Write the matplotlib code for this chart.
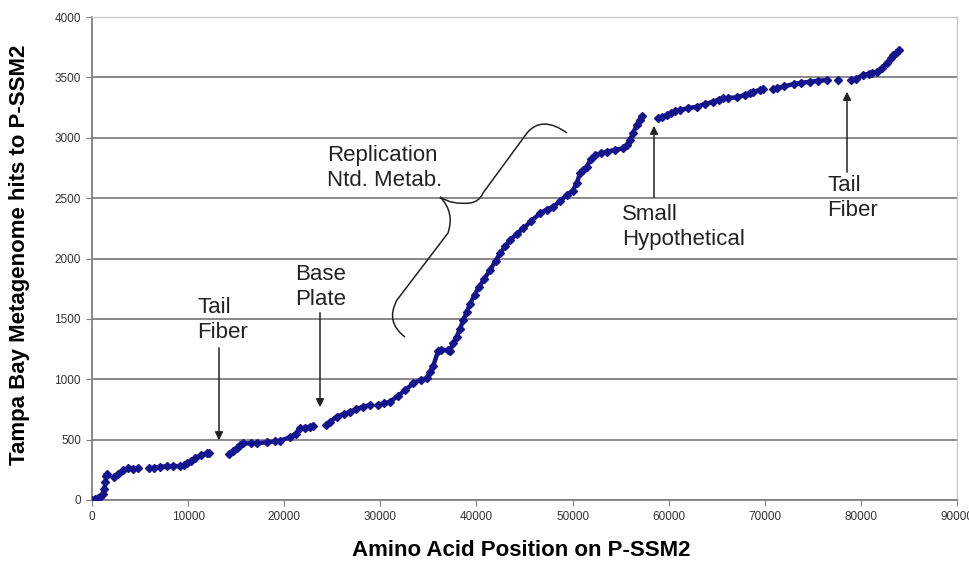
import numpy as np
import matplotlib
matplotlib.use("Agg")
import matplotlib.pyplot as plt
from matplotlib.path import Path
from matplotlib.patches import PathPatch

# ---- data; None marks gaps between runs of hits ----
positions = [0, 300, 600, 830, 1100, 1300, 1400, 1500, 1550, None,
             2300, 2700, 3260, 3780, 4300, 4820, None,
             5900, 6500, 7075, 7800, 8460, 9160, None,
             9600, 9850, 10300, 10720, 11300, 11930, 12200, None,
             14300, 14700, 15050, 15400, 15750, 16500, 17140, 18180, 19000, 19560,
             20600, 21200, 21640, 22200, 22680, 23030, None,
             24300, 24800, 25460, 26200, 26850, 27500, 28230, 28930, None,
             29800, 30400, 31010, 31800, 32600, 33430, 34200, 34820, 35170, 35500,
             36000, 36300, 37000, 37250, 37600, 37950, 38300, 38640, 39000, 39330,
             39800, 40300, 40800, 41420, 42000, 42460, 43000, 43500, 44200, 44890,
             45700, 46620, 47300, 48010, 48700, 49390, 50000, 50430, 50780, 51100,
             51470, 51900, 52340, 53000, 53560, 54400, 55290, 55700, 55980, 56300,
             56680, 57000, 57200, None,
             58900, 59300, 59800, None,
             60200, 60700, 61190, 62000, 62920, 63800, 64650, 65200, 65690, None,
             66200, 67090, 67900, 68500, 68820, 69500, 69860, None,
             70900, 71250, 72000, 73000, 73800, 74720, 75500, 76460, None,
             77600, None,
             79000, 79500, 80270, 80800, None,
             81200, 81660, 82200, 82700, 83100, 83390, 83700, 84000]
hits = [0, 10, 20, 27, 50, 90, 150, 200, 215, None,
        190, 215, 248, 262, 258, 262, None,
        262, 268, 276, 278, 281, 281, None,
        290, 303, 320, 345, 370, 386, 392, None,
        381, 405, 428, 455, 469, 470, 469, 478, 485, 491,
        519, 550, 593, 600, 607, 613, None,
        621, 650, 690, 712, 731, 752, 773, 787, None,
        787, 800, 814, 860, 910, 966, 995, 1008, 1060, 1110,
        1230, 1245, 1240, 1235, 1300, 1352, 1420, 1491, 1560, 1620,
        1700, 1767, 1830, 1905, 1980, 2043, 2100, 2153, 2205, 2250,
        2310, 2374, 2405, 2429, 2475, 2526, 2560, 2623, 2706, 2730,
        2760, 2820, 2857, 2870, 2885, 2900, 2912, 2940, 2981, 3040,
        3105, 3150, 3180, None,
        3161, 3175, 3188, None,
        3205, 3220, 3230, 3245, 3257, 3280, 3299, 3315, 3326, None,
        3330, 3334, 3355, 3372, 3381, 3395, 3400, None,
        3405, 3409, 3425, 3445, 3455, 3464, 3472, 3478, None,
        3478, None,
        3478, 3490, 3520, 3530, None,
        3535, 3547, 3580, 3616, 3660, 3685, 3705, 3730]

x_ticks = list(range(0, 90001, 10000))
y_ticks = list(range(0, 4001, 500))

xs = np.array([np.nan if v is None else v for v in positions], dtype=float)
ys = np.array([np.nan if v is None else v for v in hits], dtype=float)

fig = plt.figure(figsize=(9.69, 5.61), dpi=100)
ax = fig.add_axes([92/969, 1 - 500/561, (957 - 92)/969, (500 - 17)/561])

navy = "#14148c"
ax.plot(xs, ys, color=navy, lw=3.2, marker="D", ms=4.2, mec=navy, mfc=navy,
        solid_capstyle="round", zorder=3)

ax.set_xlim(0, 90000)
ax.set_ylim(0, 4000)
ax.set_xticks(x_ticks)
ax.set_yticks(y_ticks)
ax.yaxis.grid(True, color="#808080", lw=1.3)
ax.set_axisbelow(True)
for s in ["left", "bottom"]:
    ax.spines[s].set_color("#808080")
    ax.spines[s].set_linewidth(1.3)
for s in ["top", "right"]:
    ax.spines[s].set_color("#c8c8c8")
    ax.spines[s].set_linewidth(1.0)
ax.tick_params(axis="both", direction="out", length=4, color="#808080",
               labelsize=8.5, labelcolor="#333333", pad=4)
tickfont = ["Liberation Sans", "DejaVu Sans"]
for lab in ax.get_xticklabels() + ax.get_yticklabels():
    lab.set_family(tickfont)

lblfont = ["Liberation Sans", "DejaVu Sans"]
fig.text(20/969, 1 - 255/561, "Tampa Bay Metagenome hits to P-SSM2", rotation=90,
         ha="center", va="center", fontsize=16, fontweight="bold", family=lblfont)
fig.text(521/969, 1 - 550/561, "Amino Acid Position on P-SSM2",
         ha="center", va="center", fontsize=16, fontweight="bold", family=lblfont)

# helper to convert reference pixel positions of annotations to data coordinates
def ref(px, py):
    return ((px - 92) / 865 * 90000, (500 - py) / 483 * 4000)

tfont = dict(fontsize=16, family=lblfont, color="#222222", linespacing=1.2)
arrow = dict(arrowstyle="-|>", color="#222222", lw=1.1, mutation_scale=12)

ax.text(*ref(197, 320), "Tail\nFiber", ha="left", va="center", **tfont)
ax.annotate("", xy=ref(219, 443), xytext=ref(219, 345), arrowprops=arrow)

ax.text(*ref(295, 287), "Base\nPlate", ha="left", va="center", **tfont)
ax.annotate("", xy=ref(320, 410), xytext=ref(320, 310), arrowprops=arrow)

ax.text(*ref(327, 168), "Replication\nNtd. Metab.", ha="left", va="center", **tfont)

ax.text(*ref(622, 227), "Small\nHypothetical", ha="left", va="center", **tfont)
ax.annotate("", xy=ref(654, 123), xytext=ref(654, 200), arrowprops=arrow)

ax.text(*ref(827, 198), "Tail\nFiber", ha="left", va="center", **tfont)
ax.annotate("", xy=ref(847, 89), xytext=ref(847, 175), arrowprops=arrow)

# curly brace
bp = [ref(405, 337), ref(385, 322), ref(397, 300), ref(448, 233), ref(455, 212),
      ref(440, 197), ref(452, 205), ref(470, 203), ref(479, 202), ref(483, 193),
      ref(527, 133), ref(542, 115), ref(567, 133)]
codes = [Path.MOVETO, Path.CURVE3, Path.CURVE3, Path.LINETO, Path.CURVE3, Path.CURVE3,
         Path.CURVE3, Path.CURVE3, Path.CURVE3, Path.CURVE3, Path.LINETO,
         Path.CURVE3, Path.CURVE3]
ax.add_patch(PathPatch(Path(bp, codes), fc="none", ec="#222222", lw=1.1, zorder=4))

fig.savefig("out.png", dpi=100)
